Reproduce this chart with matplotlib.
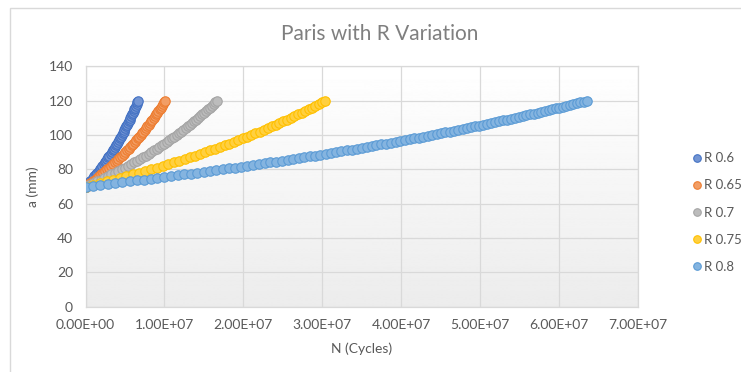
import numpy as np
import matplotlib
matplotlib.use("Agg")
import matplotlib.pyplot as plt
from matplotlib.colors import to_rgb
from matplotlib.patches import Rectangle

plt.rcParams["font.family"] = ["Lato", "DejaVu Sans"]

# crack length a (mm) - 1 mm steps for the short-life curves
A_MM = [70, 71, 72, 73, 74, 75, 76, 77, 78, 79, 80, 81, 82, 83, 84, 85, 86, 87, 88, 89,
        90, 91, 92, 93, 94, 95, 96, 97, 98, 99, 100, 101, 102, 103, 104, 105, 106, 107,
        108, 109, 110, 111, 112, 113, 114, 115, 116, 117, 118, 119, 120]

# 0.5 mm steps for the long R = 0.8 curve
A_MM_FINE = [70, 70.5, 71, 71.5, 72, 72.5, 73, 73.5, 74, 74.5, 75, 75.5, 76, 76.5, 77, 77.5,
             78, 78.5, 79, 79.5, 80, 80.5, 81, 81.5, 82, 82.5, 83, 83.5, 84, 84.5, 85, 85.5,
             86, 86.5, 87, 87.5, 88, 88.5, 89, 89.5, 90, 90.5, 91, 91.5, 92, 92.5, 93, 93.5,
             94, 94.5, 95, 95.5, 96, 96.5, 97, 97.5, 98, 98.5, 99, 99.5, 100, 100.5, 101,
             101.5, 102, 102.5, 103, 103.5, 104, 104.5, 105, 105.5, 106, 106.5, 107, 107.5,
             108, 108.5, 109, 109.5, 110, 110.5, 111, 111.5, 112, 112.5, 113, 113.5, 114,
             114.5, 115, 115.5, 116, 116.5, 117, 117.5, 118, 118.5, 119, 119.5, 120]

# cycles to reach a, in millions
N_R060 = [0, 0.20, 0.39, 0.58, 0.77, 0.95, 1.13, 1.31, 1.48, 1.65, 1.82, 1.98, 2.14, 2.30,
          2.45, 2.60, 2.75, 2.90, 3.04, 3.18, 3.32, 3.46, 3.60, 3.73, 3.86, 3.99, 4.11, 4.24,
          4.36, 4.48, 4.60, 4.71, 4.83, 4.94, 5.06, 5.17, 5.27, 5.38, 5.49, 5.59, 5.69, 5.80,
          5.90, 5.99, 6.09, 6.19, 6.28, 6.38, 6.47, 6.56, 6.65]

N_R065 = [0, 0.30, 0.60, 0.89, 1.17, 1.45, 1.72, 1.99, 2.25, 2.51, 2.76, 3.01, 3.25, 3.49,
          3.73, 3.96, 4.18, 4.40, 4.62, 4.84, 5.05, 5.26, 5.46, 5.66, 5.86, 6.05, 6.25, 6.43,
          6.62, 6.80, 6.98, 7.16, 7.34, 7.51, 7.68, 7.85, 8.01, 8.17, 8.33, 8.49, 8.65, 8.80,
          8.95, 9.10, 9.25, 9.40, 9.54, 9.68, 9.82, 9.96, 10.10]

N_R070 = [0, 0.50, 0.99, 1.47, 1.94, 2.40, 2.85, 3.29, 3.72, 4.15, 4.57, 4.98, 5.38, 5.77,
          6.16, 6.54, 6.91, 7.28, 7.64, 8.00, 8.35, 8.69, 9.03, 9.36, 9.69, 10.01, 10.33,
          10.64, 10.95, 11.25, 11.55, 11.84, 12.13, 12.41, 12.70, 12.97, 13.24, 13.51, 13.78,
          14.04, 14.30, 14.55, 14.80, 15.05, 15.30, 15.54, 15.78, 16.01, 16.24, 16.47, 16.70]

N_R075 = [0, 0.91, 1.80, 2.67, 3.53, 4.36, 5.18, 5.99, 6.78, 7.55, 8.31, 9.06, 9.79, 10.51,
          11.21, 11.91, 12.59, 13.26, 13.91, 14.56, 15.20, 15.82, 16.44, 17.04, 17.64, 18.22,
          18.80, 19.37, 19.93, 20.48, 21.02, 21.55, 22.08, 22.60, 23.11, 23.61, 24.11, 24.60,
          25.08, 25.56, 26.03, 26.49, 26.95, 27.40, 27.85, 28.29, 28.72, 29.15, 29.57, 29.99,
          30.40]

N_R080 = [0, 0.96, 1.90, 2.84, 3.77, 4.68, 5.59, 6.49, 7.38, 8.26, 9.13, 9.99, 10.85, 11.69,
          12.53, 13.36, 14.18, 14.99, 15.80, 16.60, 17.39, 18.17, 18.95, 19.72, 20.48, 21.23,
          21.98, 22.72, 23.46, 24.18, 24.91, 25.62, 26.33, 27.03, 27.73, 28.42, 29.11, 29.79,
          30.46, 31.13, 31.79, 32.45, 33.10, 33.74, 34.39, 35.02, 35.65, 36.28, 36.90, 37.51,
          38.12, 38.73, 39.33, 39.92, 40.52, 41.10, 41.69, 42.26, 42.84, 43.41, 43.97, 44.54,
          45.09, 45.65, 46.19, 46.74, 47.28, 47.82, 48.35, 48.88, 49.40, 49.93, 50.44, 50.96,
          51.47, 51.97, 52.48, 52.97, 53.47, 53.97, 54.46, 54.94, 55.43, 55.91, 56.38, 56.86,
          57.33, 57.79, 58.26, 58.72, 59.18, 59.63, 60.08, 60.53, 60.98, 61.42, 61.87, 62.30,
          62.74, 63.17, 63.60]

LABELS = ["R 0.6", "R 0.65", "R 0.7", "R 0.75", "R 0.8"]
COLORS = ["#4472C4", "#ED7D31", "#A5A5A5", "#FFC000", "#5B9BD5"]
SERIES = [(A_MM, N_R060), (A_MM, N_R065), (A_MM, N_R070), (A_MM, N_R075), (A_MM_FINE, N_R080)]

X_TICKS = [0, 1e7, 2e7, 3e7, 4e7, 5e7, 6e7, 7e7]
Y_TICKS = [0, 20, 40, 60, 80, 100, 120, 140]

TXT = "#595959"
GRID = "#D9D9D9"


def lighten(c, amt):
    r, g, b = to_rgb(c)
    return (r + (1 - r) * amt, g + (1 - g) * amt, b + (1 - b) * amt)


fig = plt.figure(figsize=(7.41, 3.72), dpi=100)
ax = fig.add_axes([85.5 / 741, 1 - 306.7 / 372, 552 / 741, 240.4 / 372])

# chart frame
fig.patches.append(Rectangle((10 / 741, -0.1), 1.2, 1 - 8 / 372 + 0.1, transform=fig.transFigure,
                             facecolor="none", edgecolor=GRID, linewidth=1.0))

# plot-area fill: white at the top fading to light grey at the bottom
grad = np.linspace(0.925, 1.0, 256).reshape(-1, 1)
ax.imshow(grad, cmap="gray", vmin=0, vmax=1, origin="lower", aspect="auto",
          extent=[0, 7e7, 0, 140], zorder=0)

for (a, n), lab, col in zip(SERIES, LABELS, COLORS):
    ax.plot(np.array(n) * 1e6, a, linestyle="none", marker="o", markersize=6.8,
            markerfacecolor=lighten(col, 0.25), markeredgecolor=col, markeredgewidth=0.8,
            label=lab, zorder=3)

ax.set_xlim(0, 7e7)
ax.set_ylim(0, 140)
ax.set_xticks(X_TICKS)
ax.set_yticks(Y_TICKS)
ax.set_xticklabels([f"{v:.2E}" for v in X_TICKS])
ax.grid(True, color=GRID, linewidth=0.9, zorder=1)
ax.set_axisbelow(True)
for s in ax.spines.values():
    s.set_color(GRID)
    s.set_linewidth(0.9)
ax.tick_params(length=0, colors=TXT, labelsize=10)
ax.tick_params(axis="x", pad=9)
ax.tick_params(axis="y", pad=9)

ax.set_xlabel("N (Cycles)", color=TXT, fontsize=10, labelpad=8)
ax.set_ylabel("a (mm)", color=TXT, fontsize=10, labelpad=7)

fig.text(380 / 741, 1 - 34 / 372, "Paris with R Variation", ha="center", va="center",
         color="#7F7F7F", fontsize=15)

fig.legend(loc="center left", bbox_to_anchor=(686 / 741, 1 - 212.5 / 372), frameon=False,
           fontsize=9.5, labelcolor=TXT, markerscale=0.8, handlelength=0.8,
           handletextpad=0.2, labelspacing=1.15, borderaxespad=0)

fig.savefig("out.png", dpi=100, facecolor="white")
